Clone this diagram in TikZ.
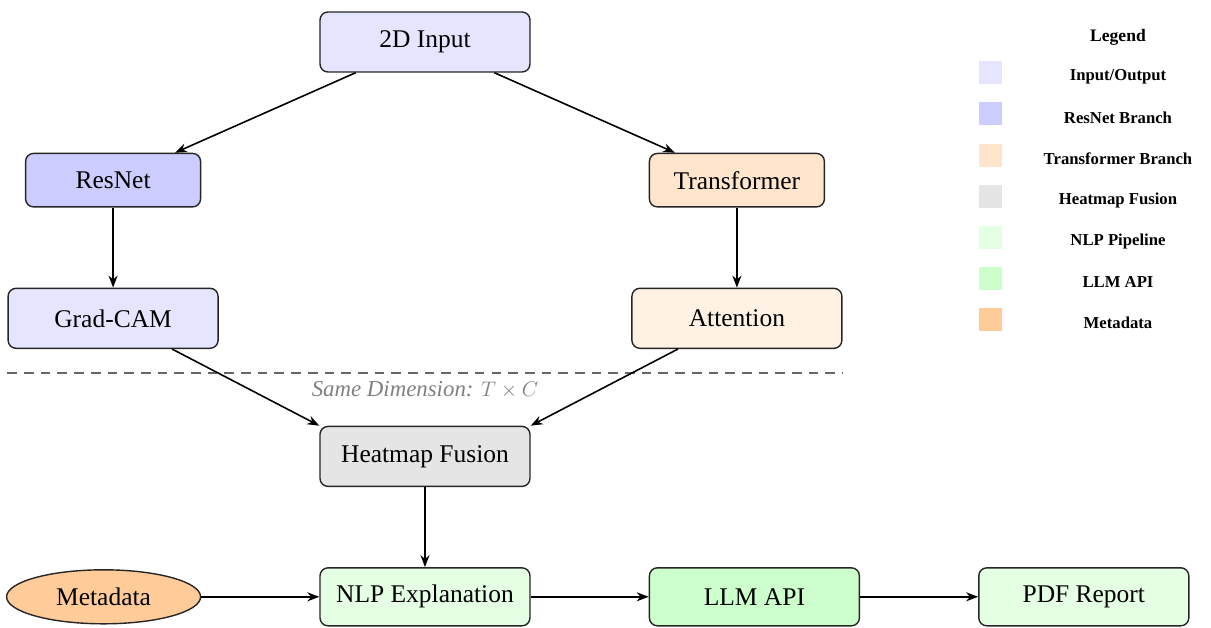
\documentclass[tikz,border=0pt]{standalone}
\usepackage{fontspec}
\setmainfont{Liberation Serif}
\usepackage{xcolor}
\usepackage{tikz}
\usetikzlibrary{shapes,arrows,positioning,calc,arrows.meta}

\begin{document}
\begin{tikzpicture}[node distance=1.6cm and 2.36cm, >={Stealth[length=2.4mm,width=1.8mm]}]
    % Styles
    \tikzstyle{block} = [draw=black!85, line width=0.8pt, rectangle, rounded corners=0.16cm, minimum width=4.2cm, minimum height=1.2cm, align=center, font=\fontsize{14.5}{17}\selectfont]
    \tikzstyle{io} = [block, fill=blue!10]
    \tikzstyle{resbranch} = [block, fill=blue!20, minimum width=3.5cm, minimum height=1.07cm]
    \tikzstyle{transbranch} = [block, fill=orange!20, minimum width=3.5cm, minimum height=1.07cm]
    \tikzstyle{attn} = [block, fill=orange!10]
    \tikzstyle{fusion} = [block, fill=gray!20]
    \tikzstyle{nlp} = [block, fill=green!10, minimum height=1.16cm]
    \tikzstyle{llm} = [block, fill=green!20, minimum height=1.16cm]
    \tikzstyle{meta} = [draw=black!85, line width=0.8pt, ellipse, fill=orange!40, minimum width=3.88cm, minimum height=1.08cm, font=\fontsize{14.5}{17}\selectfont]
    \tikzstyle{line} = [draw, ->, line width=0.9pt]
    \tikzstyle{note} = [font=\fontsize{13}{15}\selectfont\itshape, text=gray]
    \tikzstyle{swatch} = [rectangle, minimum size=0.46cm, inner sep=0pt]
    \tikzstyle{legendtext} = [font=\fontsize{9.5}{11}\selectfont\bfseries]

    \useasboundingbox (-8.5,0.84) rectangle (15.72,-11.72);

    % Input and branches
    \node [io] (Inp) {2D Input};
    \node [resbranch, below left=of Inp] (Res) {ResNet};
    \node [transbranch, below right=of Inp] (Trf) {Transformer};

    % Heatmaps
    \node [io, below=of Res] (Cam) {Grad-CAM};
    \node [attn, below=of Trf] (Att) {Attention};
    \node [fusion, below=7.06cm of Inp] (Fus) {Heatmap Fusion};

    % Report pipeline
    \node [nlp, below=of Fus] (Nlp) {NLP Explanation};
    \node [meta, left=of Nlp] (Meta) {Metadata};
    \node [llm, right=of Nlp] (Llm) {LLM API};
    \node [nlp, right=of Llm] (Pdf) {PDF Report};

    % Dimension line
    \coordinate [below=0.48cm of Cam.south west] (DashL);
    \coordinate (DashR) at (DashL -| Att.east);
    \coordinate (DashM) at (DashL -| Fus);
    \draw [black!60, line width=0.7pt, dash pattern=on 5.5pt off 4pt] (DashL) -- (DashR);
    \node [note, below=0.04cm of DashM] (Dim) {Same Dimension: $T \times C$};

    % Edges
    \draw [line] (Inp) -- (Res);
    \draw [line] (Inp) -- (Trf);
    \draw [line] (Res) -- (Cam);
    \draw [line] (Trf) -- (Att);
    \draw [line] (Cam) -- (Fus.north west);
    \draw [line] (Att) -- (Fus.north east);
    \draw [line] (Fus) -- (Nlp);
    \draw [line] (Meta) -- (Nlp);
    \draw [line] (Nlp) -- (Llm);
    \draw [line] (Llm) -- (Pdf);

    % Legend
    \node [legendtext, font=\fontsize{10}{12}\selectfont\bfseries] (LegTitle) at (13.86,0.1) {Legend};
    \foreach \col/\txt [count=\i, evaluate=\i as \yy using -0.62-0.82*(\i-1)] in
        {blue!10/{Input/Output}, blue!20/ResNet Branch, orange!20/Transformer Branch,
         gray!20/Heatmap Fusion, green!10/NLP Pipeline, green!20/LLM API, orange!40/Metadata} {
        \node [swatch, fill=\col] (Sw\i) at (11.3,\yy) {};
        \node [legendtext] (Lab\i) at (13.86,\yy-0.08) {\txt};
    }
\end{tikzpicture}
\end{document}
